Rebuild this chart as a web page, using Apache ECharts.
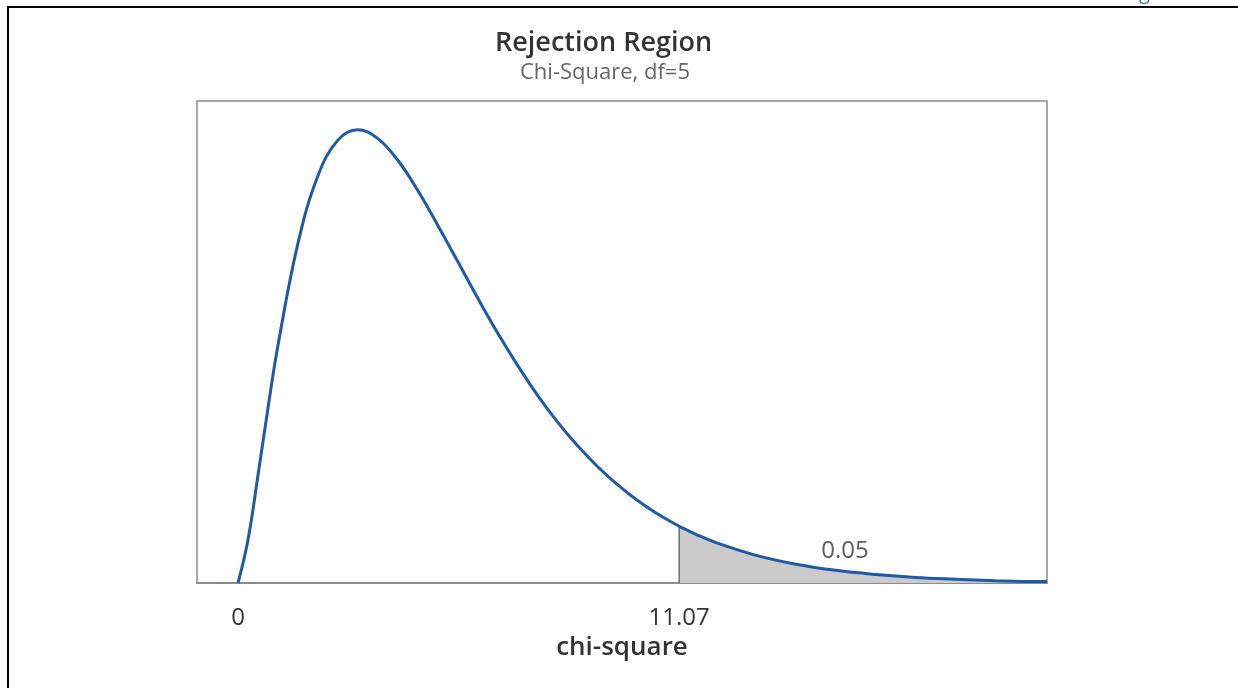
<!DOCTYPE html>
<html>
<head>
<meta charset="utf-8">
<script src="https://cdn.jsdelivr.net/npm/echarts@6/dist/echarts.min.js"></script>
<style>
  html, body { margin: 0; padding: 0; background: #fff; }
  #chart { width: 1238px; height: 688px; }
</style>
</head>
<body>
<div id="chart"></div>
<script>
// Chi-square density (df = 5), sampled points [x, density]
const curveX = [0, 0.25, 0.5, 0.75, 1, 1.5, 2, 2.5, 3, 3.5, 4, 4.5, 5, 5.5, 6, 6.5, 7, 7.5, 8, 8.5, 9, 9.5, 10, 10.5, 11, 11.07, 11.5, 12, 13, 14, 15, 16, 17, 18, 19, 20, 20.3];
const curveY = [0, 0.0147, 0.0366, 0.0594, 0.0807, 0.1154, 0.1384, 0.1506, 0.1542, 0.1513, 0.1440, 0.1338, 0.1220, 0.1097, 0.0973, 0.0854, 0.0744, 0.0642, 0.0551, 0.0470, 0.0399, 0.0337, 0.0283, 0.0237, 0.0198, 0.0193, 0.0165, 0.0137, 0.0094, 0.0064, 0.0043, 0.0029, 0.0019, 0.0013, 0.0008, 0.0005, 0.0005];

// Critical value and upper-tail probability
const criticalValue = 11.07;
const tailProb = '0.05';
const tickValues = [0, 11.07];

const curve = curveX.map((x, i) => [x, curveY[i]]);
const tail = curve.filter(p => p[0] >= criticalValue);
const critY = curveY[curveX.indexOf(criticalValue)];

const FONT = 'Open Sans';
const chart = echarts.init(document.getElementById('chart'), null, { renderer: 'canvas' });

chart.setOption({
  backgroundColor: '#ffffff',
  animation: false,
  title: [
    {
      text: 'Rejection Region',
      left: 495,
      top: 30,
      padding: 0,
      textStyle: { fontFamily: FONT, fontSize: 27, fontWeight: 600, color: '#333333' }
    },
    {
      text: 'Chi-Square, df=5',
      left: 520,
      top: 62,
      padding: 0,
      textStyle: { fontFamily: FONT, fontSize: 22, fontWeight: 'normal', color: '#666666' }
    }
  ],
  grid: {
    left: 197, right: 191, top: 101, bottom: 105,
    show: true, borderColor: '#a8a8a8', borderWidth: 2, backgroundColor: '#ffffff'
  },
  xAxis: {
    type: 'value',
    min: -1.03,
    max: 20.3,
    name: 'chi-square',
    nameLocation: 'middle',
    nameGap: 50,
    nameTextStyle: { fontFamily: FONT, fontSize: 26, fontWeight: 600, color: '#333333' },
    axisLine: { show: true, lineStyle: { color: '#8c8c8c', width: 2 } },
    axisTick: { show: false },
    splitLine: { show: false },
    axisLabel: {
      customValues: tickValues,
      formatter: v => (v === 0 ? '0' : v.toFixed(2)),
      margin: 23,
      fontFamily: FONT,
      fontSize: 24,
      color: '#333333'
    }
  },
  yAxis: {
    type: 'value',
    min: 0,
    max: 0.164,
    show: false
  },
  series: [
    {
      // shaded rejection region
      type: 'line',
      data: tail,
      smooth: 0.4,
      symbol: 'none',
      lineStyle: { width: 0 },
      areaStyle: { color: '#cbcbcb', opacity: 1 },
      z: 1
    },
    {
      // boundary at the critical value
      type: 'line',
      data: [[criticalValue, 0], [criticalValue, critY]],
      symbol: 'none',
      lineStyle: { color: '#6e6e6e', width: 1.5 },
      z: 2
    },
    {
      type: 'line',
      data: curve,
      smooth: 0.4,
      symbol: 'none',
      lineStyle: { color: '#1f5aa6', width: 3 },
      z: 3
    },
    {
      // tail probability label
      type: 'scatter',
      data: [[15.23, 0.0109]],
      symbolSize: 0,
      silent: true,
      label: {
        show: true,
        position: 'inside',
        formatter: tailProb,
        fontFamily: FONT,
        fontSize: 24,
        color: '#333333'
      },
      z: 4
    }
  ],
  graphic: [
    { type: 'line', shape: { x1: 7, y1: 7, x2: 1238, y2: 7 }, style: { stroke: '#000000', lineWidth: 2 } },
    { type: 'line', shape: { x1: 8, y1: 6, x2: 8, y2: 688 }, style: { stroke: '#000000', lineWidth: 2 } },
    { type: 'text', left: 1139, top: -17, style: { text: 'g', fontFamily: FONT, fontSize: 20, fill: '#4472c4' } }
  ]
});
</script>
</body>
</html>
